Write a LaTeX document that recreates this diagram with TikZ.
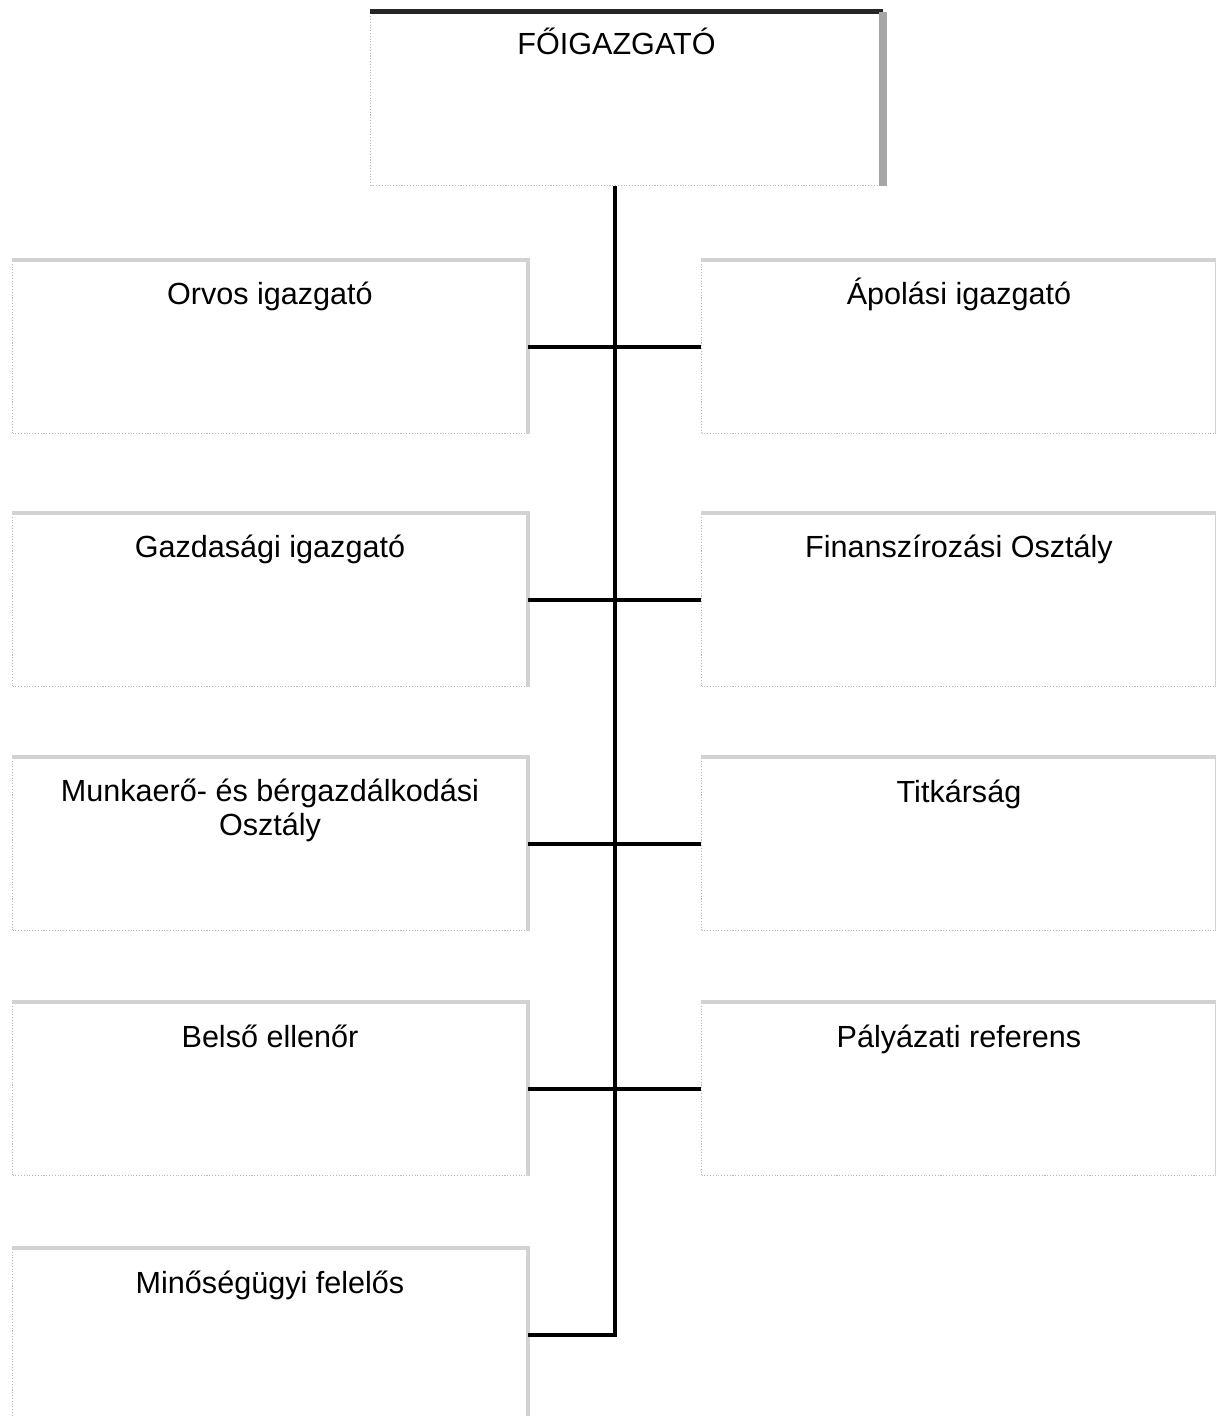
\documentclass[tikz,border=0pt]{standalone}
\usepackage{fontspec}
\setmainfont{Liberation Sans}
\tikzset{
	orgbox/.style    = {shape=rectangle, draw=gray!55, densely dotted, line width=0.6pt,
		minimum width=10.3cm, minimum height=3.46cm, anchor=north west, inner sep=0pt},
	boxtext/.style   = {font=\fontsize{17.4}{19.6}\selectfont, align=center, anchor=base, inner sep=0pt},
	shadeedge/.style = {draw=gray!35, line width=0.09cm},
	branch/.style    = {draw, line width=0.08cm}
}
\begin{document}
\begin{tikzpicture}[x=0.02cm, y=-0.02cm]
	\useasboundingbox (0,0) rectangle (1215,1416);
	% the head box
	\node [orgbox, minimum width=10.24cm] (fo) at (370,12) {};
	\draw [line width=0.1cm, black!85] (fo.north west) -- (fo.north east);
	\draw [line width=0.16cm, gray!70] (fo.north east) -- (fo.south east);
	\node [boxtext] (t-fo) at ([xshift=-0.2cm, yshift=-0.86cm]fo.north) {FŐIGAZGATÓ};
	% left column
	\node [orgbox] (orvos)     at (12,260)  {};
	\node [orgbox] (gazdasagi) at (12,513)  {};
	\node [orgbox] (munkaero)  at (12,757)  {};
	\node [orgbox] (belso)     at (12,1002) {};
	\node [orgbox] (minoseg)   at (12,1248) {};
	% right column
	\node [orgbox] (apolasi)   at (701,260)  {};
	\node [orgbox] (finansz)   at (701,513)  {};
	\node [orgbox] (titkarsag) at (701,757)  {};
	\node [orgbox] (palyazati) at (701,1002) {};
	% top and right edges of the boxes
	\foreach \b in {orvos,gazdasagi,munkaero,belso,minoseg,apolasi,finansz,titkarsag,palyazati}
		\draw [shadeedge] (\b.north west) -- (\b.north east) -- (\b.south east);
	% texts
	\node [boxtext] (t-orvos)     at ([yshift=-0.9cm]orvos.north)     {Orvos igazgató};
	\node [boxtext] (t-gazdasagi) at ([yshift=-0.9cm]gazdasagi.north) {Gazdasági igazgató};
	\node [boxtext] (t-munkaero)  at ([yshift=-1.58cm]munkaero.north) {Munkaerő- és bérgazdálkodási\\Osztály};
	\node [boxtext] (t-belso)     at ([yshift=-0.9cm]belso.north)     {Belső ellenőr};
	\node [boxtext] (t-minoseg)   at ([yshift=-0.9cm]minoseg.north)   {Minőségügyi felelős};
	\node [boxtext] (t-apolasi)   at ([yshift=-0.9cm]apolasi.north)   {Ápolási igazgató};
	\node [boxtext] (t-finansz)   at ([yshift=-0.9cm]finansz.north)   {Finanszírozási Osztály};
	\node [boxtext] (t-titkarsag) at ([yshift=-0.9cm]titkarsag.north) {Titkárság};
	\node [boxtext] (t-palyazati) at ([yshift=-0.9cm]palyazati.north) {Pályázati referens};
	% connectors
	\draw [branch] ([xshift=-0.22cm]fo.south) |- (minoseg.east);
	\foreach \l/\r in {orvos/apolasi, gazdasagi/finansz, munkaero/titkarsag, belso/palyazati}
		\draw [branch] (\l.east) -- (\r.west);
\end{tikzpicture}
\end{document}
